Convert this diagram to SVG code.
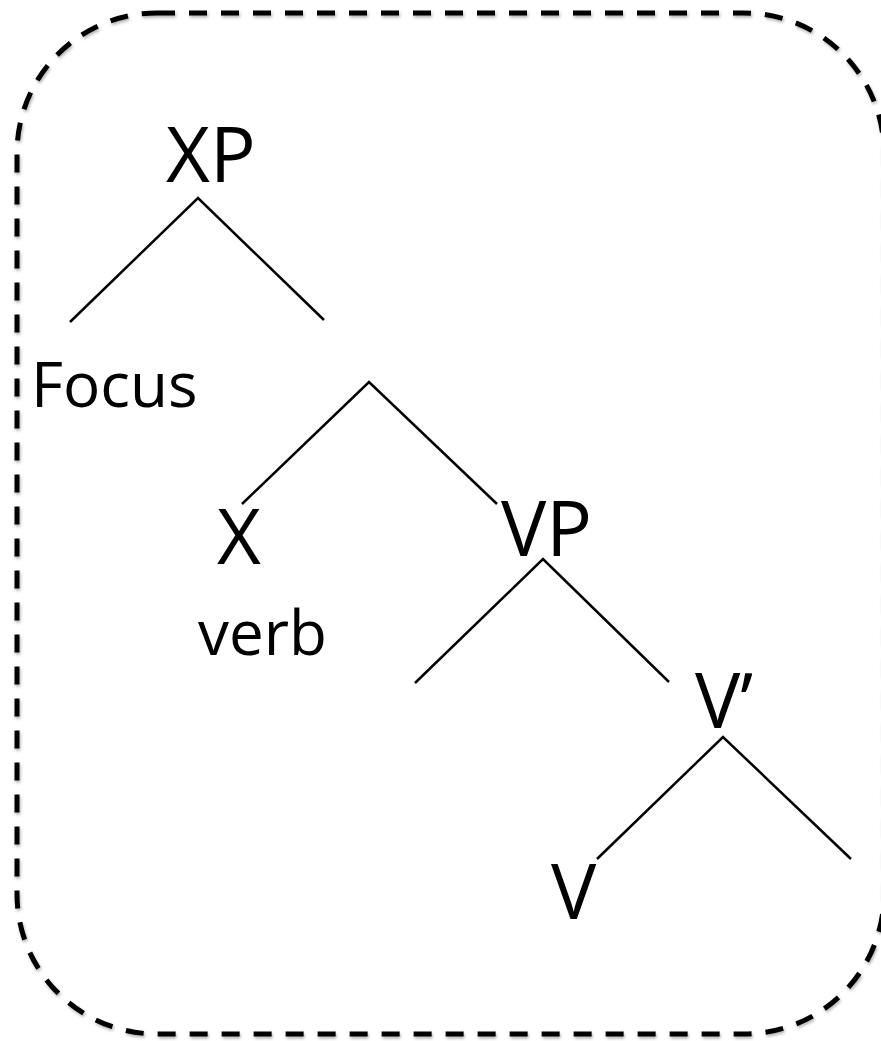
<svg xmlns="http://www.w3.org/2000/svg" width="881" height="1041" viewBox="0 0 881 1041">
  <defs>
    <style>
      .frame { fill: none; stroke: #000; stroke-width: 5; stroke-dasharray: 18 14; }
      .edge { fill: none; stroke: #000; stroke-width: 2.5; stroke-linecap: butt; stroke-linejoin: miter; }
      .big { font-family: "Open Sans", Lato, sans-serif; font-size: 76px; fill: #000; }
      .small { font-family: "Open Sans", Lato, sans-serif; font-size: 62px; fill: #000; }
    </style>
    <filter id="soft" x="-5%" y="-5%" width="110%" height="110%">
      <feDropShadow dx="1" dy="2" stdDeviation="1.5" flood-color="#000" flood-opacity="0.3"/>
    </filter>
  </defs>
  <rect width="881" height="1041" fill="#fff"/>

  <!-- dashed outline -->
  <rect class="frame" x="17" y="13" width="867" height="1021" rx="140" ry="140" filter="url(#soft)"/>

  <!-- branches -->
  <g id="connectors">
    <polyline class="edge" points="70,322 198,198 324,320"/>
    <polyline class="edge" points="242,504 369,382 497,504"/>
    <polyline class="edge" points="415,683 543,559 669,682"/>
    <polyline class="edge" points="597,859 723,737 851,859"/>
  </g>

  <g id="node-xp"><text class="big" x="166" y="182">XP</text></g>
  <g id="node-focus"><text class="small" x="31" y="407">Focus</text></g>
  <g id="node-x"><text class="big" x="217" y="564">X</text></g>
  <g id="node-verb"><text class="small" x="198" y="655">verb</text></g>
  <g id="node-vp"><text class="big" x="501" y="556">VP</text></g>
  <g id="node-vbar"><text class="big" x="695" y="728">V’</text></g>
  <g id="node-v"><text class="big" x="551" y="919">V</text></g>
</svg>
